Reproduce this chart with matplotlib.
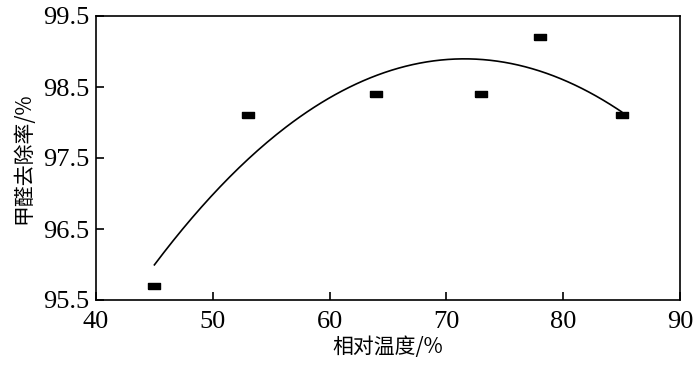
import numpy as np
import matplotlib.pyplot as plt

humidity = [45, 53, 64, 73, 78, 85]
removal = [95.7, 98.1, 98.4, 98.4, 99.2, 98.1]

x_ticks = [40, 50, 60, 70, 80, 90]
y_ticks = [95.5, 96.5, 97.5, 98.5, 99.5]

SERIF = ['Liberation Serif', 'DejaVu Serif']
CJK = ['Noto Sans CJK SC', 'DejaVu Sans']


def main():
    fig = plt.figure(figsize=(7.0, 3.69), dpi=100)
    ax = fig.add_axes([96 / 700, 1 - 300 / 369, (680 - 96) / 700, (300 - 16) / 369])

    # quadratic trend line fitted to the measured points
    coef = np.polyfit(humidity, removal, 2)
    xf = np.linspace(min(humidity), max(humidity), 200)
    ax.plot(xf, np.polyval(coef, xf), color='black', linewidth=1.2)

    rect = [(-1.7, -1), (1.7, -1), (1.7, 1), (-1.7, 1), (-1.7, -1)]
    ax.plot(humidity, removal, linestyle='none', marker=rect, markersize=8.5,
            color='black')

    ax.set_xlim(40, 90)
    ax.set_ylim(95.5, 99.5)
    ax.set_xticks(x_ticks)
    ax.set_yticks(y_ticks)
    ax.set_xticklabels([str(v) for v in x_ticks], family=SERIF, fontsize=19)
    ax.set_yticklabels([f'{v:.1f}' for v in y_ticks], family=SERIF, fontsize=19)
    ax.tick_params(direction='in', length=6, width=1.2, top=False, right=False, pad=5)
    ax.tick_params(axis='x', pad=8)
    for s in ax.spines.values():
        s.set_linewidth(1.2)

    ax.set_xlabel('相对温度/%', family=CJK, fontsize=15, labelpad=2)
    ax.set_ylabel('甲醛去除率/%', family=CJK, fontsize=15, labelpad=6)

    fig.savefig('out.png', dpi=100)
    plt.close(fig)


if __name__ == "__main__":
    main()
